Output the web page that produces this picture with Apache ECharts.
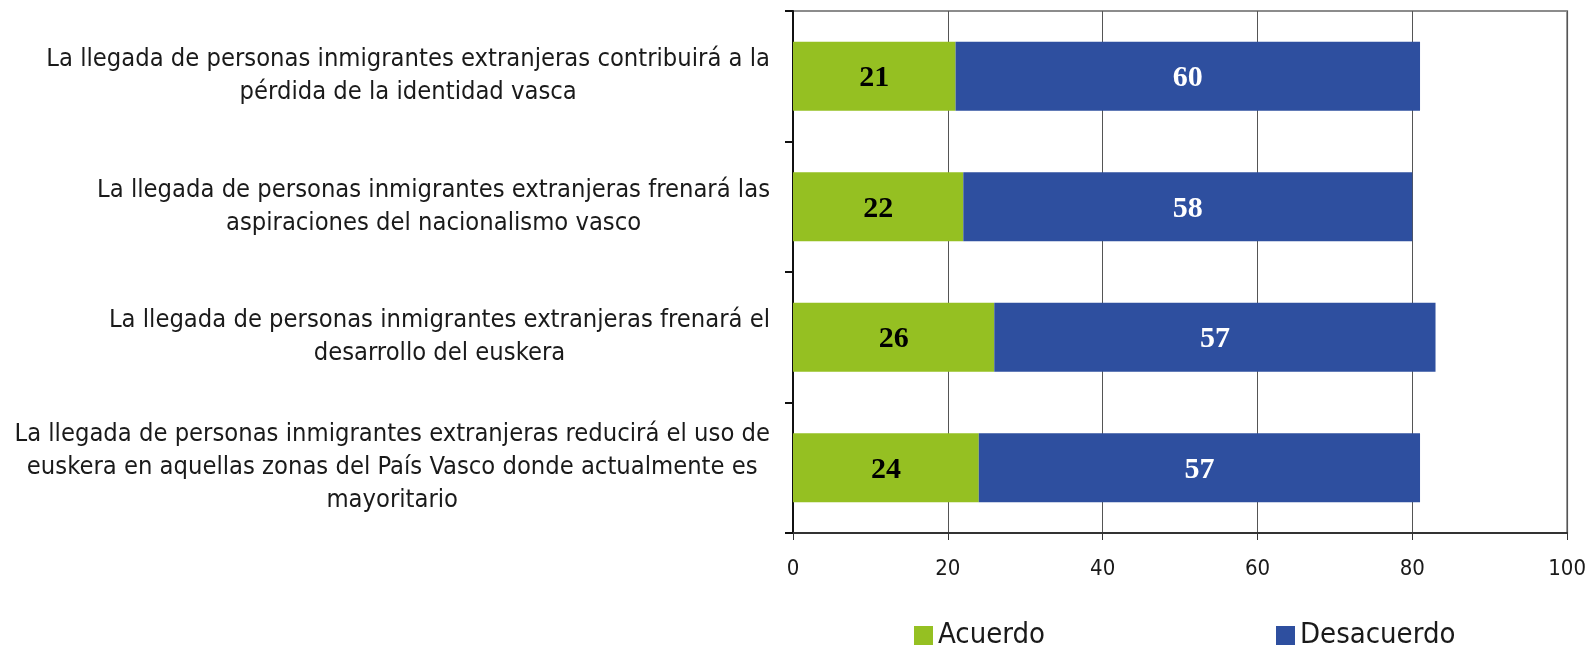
<!DOCTYPE html>
<html>
<head>
<meta charset="utf-8">
<script src="https://cdn.jsdelivr.net/npm/echarts@6/dist/echarts.min.js"></script>
<style>
  html, body { margin: 0; padding: 0; background: #fff; }
  #chart { width: 1589px; height: 646px; }
</style>
</head>
<body>
<div id="chart"></div>
<script>
// categorias (con los saltos de linea del original)
const categories = [
  'La llegada de personas inmigrantes extranjeras contribuirá a la\npérdida de la identidad vasca',
  'La llegada de personas inmigrantes extranjeras frenará las\naspiraciones del nacionalismo vasco',
  'La llegada de personas inmigrantes extranjeras frenará el\ndesarrollo del euskera',
  'La llegada de personas inmigrantes extranjeras reducirá el uso de\neuskera en aquellas zonas del País Vasco donde actualmente es\nmayoritario'
];
const acuerdo = [21, 22, 26, 24];
const desacuerdo = [60, 58, 57, 57];
const xTicks = { min: 0, max: 100, step: 20 };

const LABEL_FONT = '"Liberation Sans Narrow", "DejaVu Sans Condensed", sans-serif';
const VALUE_FONT = '"Liberation Serif", "DejaVu Serif", serif';

const chart = echarts.init(document.getElementById('chart'));

const option = {
  animation: false,
  grid: {
    left: 793,
    right: 21,
    top: 11,
    bottom: 113,
    show: true,
    borderColor: '#8c8c8c',
    borderWidth: 2
  },
  legend: [
    {
      data: ['Acuerdo'],
      left: 914,
      top: 621,
      padding: 0,
      icon: 'rect',
      itemWidth: 19,
      itemHeight: 19,
      itemGap: 7,
      textStyle: { fontFamily: LABEL_FONT, fontSize: 29, color: '#1a1a1a' }
    },
    {
      data: ['Desacuerdo'],
      left: 1276,
      top: 621,
      padding: 0,
      icon: 'rect',
      itemWidth: 19,
      itemHeight: 19,
      itemGap: 7,
      textStyle: { fontFamily: LABEL_FONT, fontSize: 29, color: '#1a1a1a' }
    }
  ],
  xAxis: {
    type: 'value',
    min: xTicks.min,
    max: xTicks.max,
    interval: xTicks.step,
    axisLine: { show: true, lineStyle: { color: '#333', width: 2 } },
    axisTick: { show: true, length: 7, lineStyle: { color: '#333' } },
    splitLine: { show: true, lineStyle: { color: '#555', width: 1 } },
    axisLabel: {
      margin: 25,
      fontFamily: LABEL_FONT,
      fontSize: 22,
      color: '#1a1a1a'
    }
  },
  yAxis: {
    type: 'category',
    inverse: true,
    data: categories,
    axisLine: { show: true, lineStyle: { color: '#111', width: 2 } },
    axisTick: { show: true, length: 8, lineStyle: { color: '#111', width: 2 } },
    axisLabel: {
      margin: 23,
      align: 'right',
      formatter: function (value) {
        return value.split('\n').map(l => '{c|' + l + '}').join('\n');
      },
      rich: {
        c: {
          align: 'center',
          fontFamily: LABEL_FONT,
          fontSize: 25.3,
          lineHeight: 33,
          color: '#1a1a1a'
        }
      }
    }
  },
  series: [
    {
      name: 'Acuerdo',
      type: 'bar',
      stack: 'total',
      barWidth: 69,
      data: acuerdo,
      itemStyle: { color: '#95c022' },
      label: {
        show: true,
        position: 'inside',
        offset: [0, 2],
        fontFamily: VALUE_FONT,
        fontWeight: 'bold',
        fontSize: 30,
        color: '#000'
      }
    },
    {
      name: 'Desacuerdo',
      type: 'bar',
      stack: 'total',
      barWidth: 69,
      data: desacuerdo,
      itemStyle: { color: '#2e4f9f' },
      label: {
        show: true,
        position: 'inside',
        offset: [0, 2],
        fontFamily: VALUE_FONT,
        fontWeight: 'bold',
        fontSize: 30,
        color: '#fff'
      }
    }
  ]
};

chart.setOption(option);
</script>
</body>
</html>
